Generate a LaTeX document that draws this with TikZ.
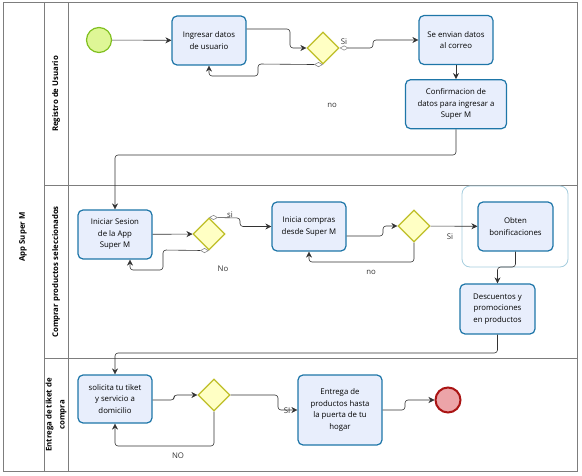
\documentclass[tikz,border=0pt]{standalone}
\usepackage{fontspec}
\setmainfont{Open Sans}
\usetikzlibrary{positioning, arrows.meta, shapes.geometric}

\definecolor{taskfill}{RGB}{232,238,252}
\definecolor{taskline}{RGB}{30,118,168}
\definecolor{gwfill}{RGB}{255,255,196}
\definecolor{gwline}{RGB}{190,190,40}
\definecolor{startfill}{RGB}{222,246,150}
\definecolor{startline}{RGB}{128,192,32}
\definecolor{endfill}{RGB}{236,164,168}
\definecolor{endline}{RGB}{170,20,20}
\definecolor{lanegray}{RGB}{125,125,125}
\definecolor{grpline}{RGB}{165,205,222}

\begin{document}
\begin{tikzpicture}[x=1pt, y=-1pt, font=\fontsize{7.8}{11.5}\selectfont,
    flow/.style={draw=black!80, line width=0.6pt, rounded corners=3pt, -{Stealth[length=6pt, width=6pt]}},
    cond/.style={{Diamond[color=black!45, fill=white, length=9pt, width=5pt]}-{Stealth[length=6pt, width=6pt]}},
    lbl/.style={inner sep=1pt, text=black!80}]

    \useasboundingbox (0,0) rectangle (582,476); % same size as the reference

    % pool and lanes
    \begin{scope}[draw=lanegray, line width=1pt]
        \draw (3,3) rectangle (577,471);
        \draw (44,3) -- (44,471);
        \draw (68,3) -- (68,471);
        \draw (44,186) -- (577,186);
        \draw (44,359) -- (577,359);
    \end{scope}

    \begin{scope}[every node/.style={rotate=90, align=center, font=\fontsize{7.8}{13}\selectfont\bfseries}]
        \node (pool)  at (23,237) {App Super M};
        \node (lane1) at (56,94)  {Registro de Usuario};
        \node (lane2) at (56,272) {Comprar productos seleccionados};
        \node (lane3) at (56,415) {Entrega de tiket de\\compra};
    \end{scope}

    % group round the bonus task
    \node (grp) [draw=grpline, line width=0.8pt, rounded corners=8pt, minimum width=106, minimum height=81] at (515,226.5) {};

    % tasks, gateways and events
    \begin{scope}[every node/.style={draw=taskline, fill=taskfill, line width=1.2pt, rounded corners=5pt,
                                     align=center, inner sep=1pt, minimum width=74, minimum height=49},
                  gw/.style={diamond, draw=gwline, fill=gwfill, minimum width=32, minimum height=32, rounded corners=0pt},
                  ev/.style={circle, minimum size=25, minimum width=25, minimum height=25}]

        \node [ev, draw=startline, fill=startfill] (start) at (99,40) {};
        \node (ingresar) at (209,40.5) {Ingresar datos\\de usuario};
        \node [gw] (gw1) at (323,48) {};
        \node (envian) at (456,40) {Se envian datos\\al correo};
        \node [minimum width=101, below = 14pt of envian] (confirm) {Confirmacion de\\datos para ingresar a\\Super M};

        \node (iniciar) at (115,234.5) {Iniciar Sesion\\de la App\\Super M};
        \node [gw] (gw2) at (209,234) {};
        \node (compras) at (309,226.5) {Inicia compras\\desde Super M};
        \node [gw] (gw3) at (414,226) {};
        \node [minimum width=75] (obten) at (515.5,226.5) {Obten\\bonificaciones};
        \node [minimum width=75, minimum height=50] (descuentos) at (497.5,309) {Descuentos y\\promociones\\en productos};

        \node [minimum height=48] (solicita) at (115,399) {solicita tu tiket\\y servicio a\\domicilio};
        \node [gw] (gw4) at (214,395) {};
        \node [minimum width=84, minimum height=70] (entrega) at (340,410) {Entrega de\\productos hasta\\la puerta de tu\\hogar};
        \node [ev, draw=endline, fill=endfill, line width=2pt] (end) at (448,400) {};
    \end{scope}

    \coordinate (c1) at (115,155);
    \coordinate (c2) at (115,353);

    % sequence flows
    \draw [flow] (start) -- (ingresar);
    \draw [flow] ([yshift=11.5pt]ingresar.east) -| (290,48) -- (gw1.west);
    \draw [flow, cond] (gw1.east) -- (373,48) |- (envian.west);
    \draw [flow, cond] (gw1.south) -- (258,64) -- (258,76) -| (ingresar.south);
    \draw [flow] (envian) -- (confirm);
    \draw [flow] (confirm.south) |- (c1) -- (iniciar.north);

    \draw [flow] (iniciar) -- (gw2);
    \draw [flow, cond] (gw2.north) -- (240,218) |- (compras.west);
    \draw [flow, cond] (gw2.south) -- (163,250) -- (163,270) -| ([xshift=15pt]iniciar.south);
    \draw [flow] ([yshift=-9.5pt]compras.east) -| (383,226) -- (gw3.west);
    \draw [flow] (gw3) -- (obten);
    \draw [flow] (gw3.south) |- (330,262) -| (compras.south);
    \draw [flow] (obten.south) |- (505,267) -| (descuentos.north);
    \draw [flow] (descuentos.south) |- (c2) -- (solicita.north);

    \draw [flow] ([yshift=-1pt]solicita.east) -| (174,395) -- (gw4.west);
    \draw [flow] (gw4.east) -- (278,395) |- (entrega.west);
    \draw [flow] (gw4.south) |- (130,446) -| (solicita.south);
    \draw [flow] (entrega.east) -| (405,400) -- (end.west);

    % flow labels
    \node [lbl] (si1) at (344,42)  {Si};
    \node [lbl] (no1) at (332,105) {no};
    \node [lbl] (si2) at (230,215) {si};
    \node [lbl] (no2) at (223,269) {No};
    \node [lbl] (si3) at (450,237) {Si};
    \node [lbl] (no3) at (371,272) {no};
    \node [lbl] (si4) at (287,411) {SI};
    \node [lbl] (no4) at (178,456) {NO};

\end{tikzpicture}
\end{document}
